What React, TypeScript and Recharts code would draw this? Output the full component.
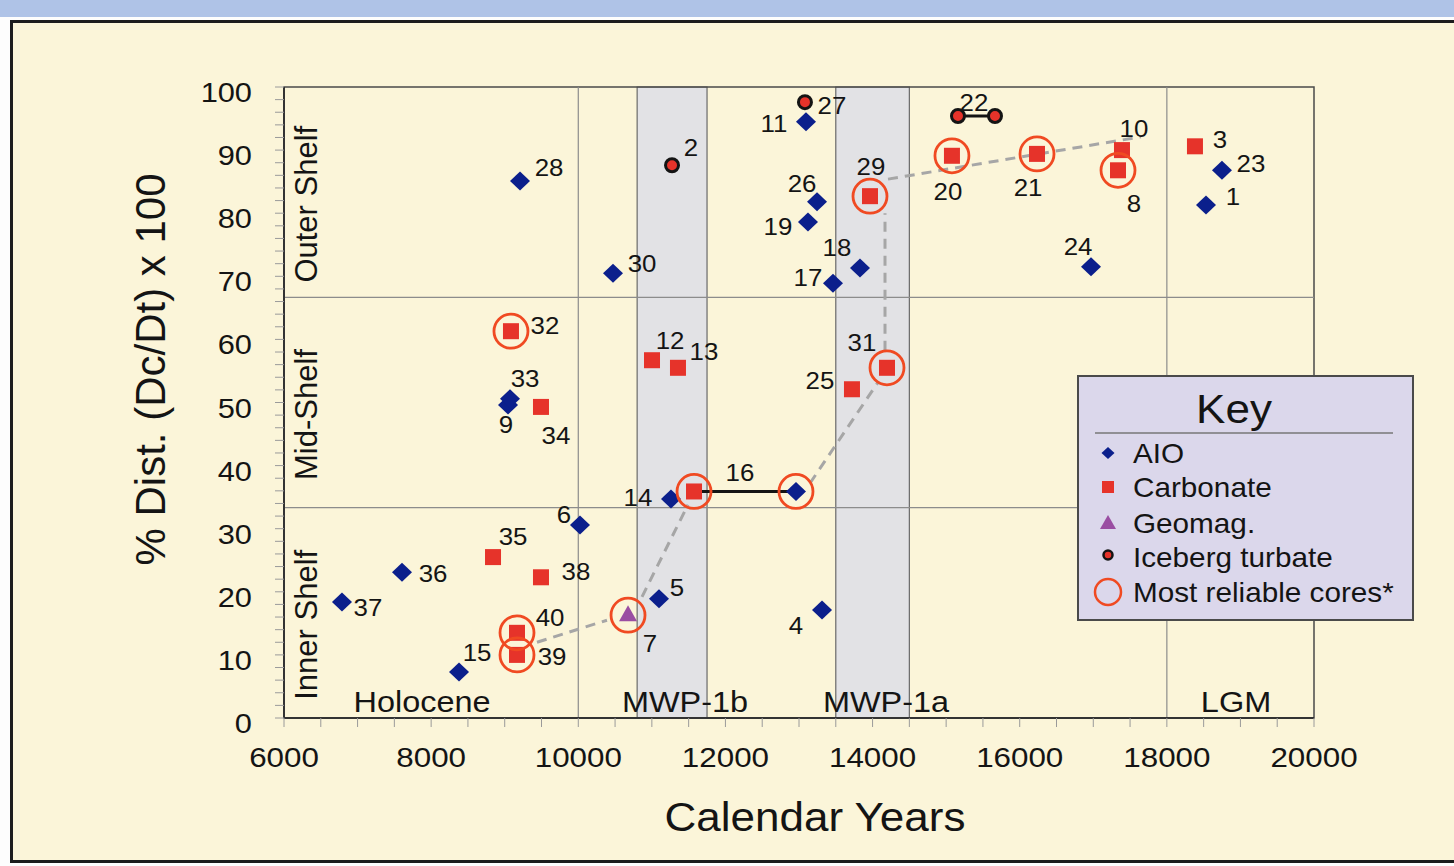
import React from 'react';
import { ScatterChart, Scatter, XAxis, YAxis, ReferenceArea, ReferenceLine, Legend, Label } from 'recharts';

type Pt = { id: string; year: number; pct: number };

// core sites: calendar age vs % distance across the shelf
const aio: Pt[] = [
  { id: '1', year: 18532, pct: 81.3 },
  { id: '4', year: 13313, pct: 17.1 },
  { id: '5', year: 11097, pct: 18.9 },
  { id: '6', year: 10023, pct: 30.6 },
  { id: '9', year: 9045, pct: 49.6 },
  { id: '11', year: 13095, pct: 94.5 },
  { id: '14', year: 11260, pct: 34.7 },
  { id: '15', year: 8379, pct: 7.3 },
  { id: '16', year: 12959, pct: 35.9 },
  { id: '17', year: 13462, pct: 68.9 },
  { id: '18', year: 13829, pct: 71.3 },
  { id: '19', year: 13122, pct: 78.6 },
  { id: '23', year: 18749, pct: 86.8 },
  { id: '24', year: 16969, pct: 71.5 },
  { id: '26', year: 13245, pct: 81.8 },
  { id: '28', year: 9208, pct: 85.1 },
  { id: '30', year: 10472, pct: 70.5 },
  { id: '33', year: 9072, pct: 50.6 },
  { id: '36', year: 7604, pct: 23.1 },
  { id: '37', year: 6788, pct: 18.4 },
];

const carbonate: Pt[] = [
  { id: '3', year: 18382, pct: 90.6 },
  { id: '8', year: 17336, pct: 86.8 },
  { id: '10', year: 17390, pct: 90.0 },
  { id: '12', year: 11002, pct: 56.7 },
  { id: '13', year: 11355, pct: 55.5 },
  { id: '16*', year: 11573, pct: 35.9 },
  { id: '20', year: 15079, pct: 89.1 },
  { id: '21', year: 16235, pct: 89.4 },
  { id: '25', year: 13720, pct: 52.1 },
  { id: '29', year: 13965, pct: 82.7 },
  { id: '31', year: 14196, pct: 55.5 },
  { id: '32', year: 9085, pct: 61.3 },
  { id: '34', year: 9493, pct: 49.3 },
  { id: '35', year: 8841, pct: 25.5 },
  { id: '38', year: 9493, pct: 22.3 },
  { id: '39', year: 9167, pct: 10.0 },
  { id: '40', year: 9167, pct: 13.5 },
];

const geomag: Pt[] = [{ id: '7', year: 10676, pct: 16.3 }];

const iceberg: Pt[] = [
  { id: '2', year: 11274, pct: 87.6 },
  { id: '27', year: 13081, pct: 97.6 },
  { id: '22', year: 15161, pct: 95.4 },
  { id: '22*', year: 15664, pct: 95.4 },
];

const reliableIds = ['32', '40', '39', '7', '16*', '16', '31', '29', '20', '21', '8'];

// solid bars joining two ages of the same core
const connectors = [['16*', '16'], ['22', '22*']];

// dashed trend through the most reliable cores (visible pieces only)
const trendSegments: { year: number; pct: number }[][] = [
  [{ year: 9439, pct: 12.0 }, { year: 10390, pct: 15.5 }],
  [{ year: 10866, pct: 19.2 }, { year: 11491, pct: 33.8 }],
  [{ year: 13149, pct: 37.2 }, { year: 14074, pct: 53.2 }],
  [{ year: 14169, pct: 58.2 }, { year: 14169, pct: 80.0 }],
  [{ year: 14210, pct: 85.4 }, { year: 17648, pct: 92.1 }],
];

const bands = [
  { x1: 10800, x2: 11750 },
  { x1: 13500, x2: 14500 },
];
const dividers = [10000, 18000];
const shelfBounds = [33.33, 66.67];

const eras = [
  { name: 'Holocene', year: 7876 },
  { name: 'MWP-1b', year: 11450 },
  { name: 'MWP-1a', year: 14183 },
  { name: 'LGM', year: 18940 },
];

const shelves = [
  { name: 'Outer Shelf', pct: 83.33 },
  { name: 'Mid-Shelf', pct: 50 },
  { name: 'Inner Shelf', pct: 16.67 },
];

const xMajor = [6000, 8000, 10000, 12000, 14000, 16000, 18000, 20000];
const yMajor = [0, 10, 20, 30, 40, 50, 60, 70, 80, 90, 100];
const xTicks = Array.from({ length: 29 }, (_, i) => 6000 + i * 500);
const yTicks = Array.from({ length: 51 }, (_, i) => i * 2);

const keyItems = ['AIO', 'Carbonate', 'Geomag.', 'Iceberg turbate', 'Most reliable cores*'];

// label offset from its marker, px
const labelAt: Record<string, [number, number]> = {
  '28': [29, -14], '30': [29, -10], '2': [19, -18], '11': [-32, 2], '27': [27, 3],
  '26': [-15, -18], '19': [-30, 4], '18': [-23, -21], '17': [-25, -6], '29': [1, -30],
  '22': [16, -14], '20': [-4, 36], '21': [-9, 34], '10': [12, -22], '8': [16, 33],
  '3': [25, -7], '23': [29, -7], '1': [27, -8], '24': [-13, -20], '32': [34, -6],
  '12': [18, -20], '13': [26, -16], '33': [15, -20], '9': [-2, 19], '34': [15, 29],
  '31': [-25, -25], '25': [-32, -9], '16': [-56, -19], '14': [-33, -2], '6': [-16, -10],
  '35': [20, -21], '36': [31, 1], '38': [35, -6], '37': [26, 6], '5': [18, -11],
  '7': [22, 28], '40': [33, -15], '39': [35, 2], '15': [18, -19], '4': [-26, 15],
};

const SX = 1.1;
const FONT = '"Liberation Sans", Arial, Helvetica, sans-serif';
const NAVY = '#0b1f8c';
const RED = '#e6332a';
const RING = '#f04a22';
const PURPLE = '#9a4ea2';
const INK = '#141414';

const allPts = [...aio, ...carbonate, ...geomag, ...iceberg];
const reliable = reliableIds.map((id) => allPts.find((p) => p.id === id));
const connectorData = connectors.map((pair) => pair.map((id) => allPts.find((p) => p.id === id)));

function SText({ x, y, size, anchor = 'middle', children }: any) {
  return (
    <text
      transform={`translate(${x} ${y}) scale(${SX} 1)`}
      fontSize={size}
      textAnchor={anchor}
      fill={INK}
      fontFamily={FONT}
    >
      {children}
    </text>
  );
}

function numLabel(cx: number, cy: number, id: string) {
  const o = labelAt[id];
  if (!o) return null;
  return (
    <SText x={cx + o[0]} y={cy + o[1] + 8.5} size={23.5}>
      {id}
    </SText>
  );
}

const diamond = ({ cx, cy, payload }: any) => (
  <g>
    <path d={`M${cx},${cy - 9.5}L${cx + 10},${cy}L${cx},${cy + 9.5}L${cx - 10},${cy}Z`} fill={NAVY} />
    {numLabel(cx, cy, payload.id)}
  </g>
);

const square = ({ cx, cy, payload }: any) => (
  <g>
    <rect x={cx - 8} y={cy - 8} width={16} height={16} fill={RED} />
    {numLabel(cx, cy, payload.id)}
  </g>
);

const triangle = ({ cx, cy, payload }: any) => (
  <g>
    <path d={`M${cx},${cy - 10}L${cx + 9},${cy + 6}L${cx - 9},${cy + 6}Z`} fill={PURPLE} />
    {numLabel(cx, cy, payload.id)}
  </g>
);

const ice = ({ cx, cy, payload }: any) => (
  <g>
    <circle cx={cx} cy={cy} r={6.5} fill={RED} stroke={INK} strokeWidth={3} />
    {numLabel(cx, cy, payload.id)}
  </g>
);

const ring = ({ cx, cy }: any) => <circle cx={cx} cy={cy} r={17} fill="none" stroke={RING} strokeWidth={2.8} />;

const none = () => <g />;

const eraShape = ({ cx, cy, payload }: any) => (
  <SText x={cx} y={cy - 6} size={29.5}>
    {payload.name}
  </SText>
);

const shelfShape = ({ cx, cy, payload }: any) => (
  <text
    transform={`translate(${cx + 33} ${cy + 12}) rotate(-90)`}
    fontSize={31}
    textAnchor="middle"
    fill={INK}
    fontFamily={FONT}
  >
    {payload.name}
  </text>
);

const xTick = ({ x, y, payload }: any) =>
  xMajor.includes(payload.value) ? (
    <SText x={x} y={y + 38} size={28.5}>
      {payload.value}
    </SText>
  ) : (
    <g />
  );

const yTick = ({ x, y, payload }: any) =>
  yMajor.includes(payload.value) ? (
    <SText x={x - 21} y={y + 15} size={28} anchor="end">
      {payload.value}
    </SText>
  ) : (
    <g />
  );

const xTitle = ({ viewBox }: any) => (
  <SText x={viewBox.x + viewBox.width / 2 + 16} y={viewBox.y + 113} size={40}>
    Calendar Years
  </SText>
);

const yTitle = ({ viewBox }: any) => (
  <text
    transform={`translate(${viewBox.x - 29} ${viewBox.y + viewBox.height / 2 - 33}) rotate(-90)`}
    fontSize={42}
    textAnchor="middle"
    fill={INK}
    fontFamily={FONT}
  >
    % Dist. (Dc/Dt) x 100
  </text>
);

function keyMarker(i: number, cx: number, cy: number) {
  if (i === 0) return <path d={`M${cx},${cy - 6}L${cx + 6.5},${cy}L${cx},${cy + 6}L${cx - 6.5},${cy}Z`} fill={NAVY} />;
  if (i === 1) return <rect x={cx - 6} y={cy - 6} width={12} height={12} fill={RED} />;
  if (i === 2) return <path d={`M${cx},${cy - 8}L${cx + 8},${cy + 6}L${cx - 8},${cy + 6}Z`} fill={PURPLE} />;
  if (i === 3) return <circle cx={cx} cy={cy - 2} r={4.5} fill={RED} stroke={INK} strokeWidth={2.5} />;
  return <circle cx={cx} cy={cy} r={13} fill="none" stroke={RING} strokeWidth={2.5} />;
}

const renderKey = () => (
  <div
    style={{
      width: 337,
      height: 246,
      boxSizing: 'border-box',
      border: '2px solid #4a4a4a',
      background: '#dbd7eb',
    }}
  >
    <svg width={333} height={242} style={{ display: 'block' }}>
      <SText x={155} y={46} size={40}>
        Key
      </SText>
      <line x1={16} x2={314} y1={56} y2={56} stroke="#777" strokeWidth={1.5} />
      {keyItems.map((name, i) => {
        const cy = [76, 110, 146, 180, 215][i];
        return (
          <g key={name}>
            {keyMarker(i, 29, cy)}
            <SText x={54} y={cy + 9.5} size={27} anchor="start">
              {name}
            </SText>
          </g>
        );
      })}
    </svg>
  </div>
);

export default function App() {
  return (
    <div
      style={{
        position: 'relative',
        width: 1454,
        height: 866,
        overflow: 'hidden',
        background: '#fdfdfd',
        fontFamily: FONT,
      }}
    >
      <style>{'body{margin:0}'}</style>
      <div style={{ position: 'absolute', left: 0, top: 0, width: 1454, height: 17, background: '#afc3e7' }} />
      <div
        style={{
          position: 'absolute',
          left: 10,
          top: 20,
          width: 1470,
          height: 843,
          boxSizing: 'border-box',
          border: '3px solid #1c1c1c',
          background: '#fbf5d9',
        }}
      />
      <div style={{ position: 'absolute', left: 0, top: 0 }}>
        <ScatterChart width={1454} height={866} margin={{ top: 87, right: 140, bottom: 88, left: 194 }}>
          <XAxis
            type="number"
            dataKey="year"
            domain={[6000, 20000]}
            ticks={xTicks}
            interval={0}
            tickSize={9}
            tick={xTick}
            axisLine={{ stroke: '#333', strokeWidth: 2 }}
            tickLine={{ stroke: '#9a9a9a' }}
            height={60}
            allowDataOverflow
          >
            <Label content={xTitle} />
          </XAxis>
          <YAxis
            type="number"
            dataKey="pct"
            domain={[0, 100]}
            ticks={yTicks}
            interval={0}
            tickSize={9}
            tick={yTick}
            axisLine={{ stroke: '#333', strokeWidth: 2 }}
            tickLine={{ stroke: '#9a9a9a' }}
            width={90}
            allowDataOverflow
          >
            <Label content={yTitle} />
          </YAxis>

          {bands.map((b) => (
            <ReferenceArea
              key={b.x1}
              x1={b.x1}
              x2={b.x2}
              y1={0}
              y2={100}
              fill="#e2e2e5"
              fillOpacity={1}
              stroke="#6a6a6a"
              strokeWidth={1.2}
            />
          ))}
          {dividers.map((x) => (
            <ReferenceLine key={x} x={x} stroke="#8c8c8c" strokeWidth={1.2} />
          ))}
          {shelfBounds.map((y) => (
            <ReferenceLine key={y} y={y} stroke="#8c8c8c" strokeWidth={1.2} />
          ))}
          <ReferenceArea x1={6000} x2={20000} y1={0} y2={100} fill="none" stroke="#4a4a4a" strokeWidth={1.5} />

          <Scatter data={shelves.map((s) => ({ ...s, year: 6000 }))} shape={shelfShape} isAnimationActive={false} legendType="none" />
          <Scatter data={eras.map((e) => ({ ...e, pct: 0 }))} shape={eraShape} isAnimationActive={false} legendType="none" />

          {trendSegments.map((seg, i) => (
            <Scatter
              key={'t' + i}
              data={seg}
              line={{ stroke: '#a6a6a6', strokeWidth: 3, strokeDasharray: '10 7' }}
              shape={none}
              isAnimationActive={false}
              legendType="none"
            />
          ))}
          {connectorData.map((seg, i) => (
            <Scatter
              key={'c' + i}
              data={seg}
              line={{ stroke: INK, strokeWidth: 3 }}
              shape={none}
              isAnimationActive={false}
              legendType="none"
            />
          ))}

          <Scatter name="AIO" data={aio} shape={diamond} isAnimationActive={false} />
          <Scatter name="Carbonate" data={carbonate} shape={square} isAnimationActive={false} />
          <Scatter name="Geomag." data={geomag} shape={triangle} isAnimationActive={false} />
          <Scatter name="Iceberg turbate" data={iceberg} shape={ice} isAnimationActive={false} />
          <Scatter name="Most reliable cores*" data={reliable} shape={ring} isAnimationActive={false} />

          <Legend
            layout="vertical"
            align="center"
            verticalAlign="middle"
            content={renderKey}
            wrapperStyle={{ left: 1077, top: 375, width: 337, height: 246, right: 'auto', bottom: 'auto' }}
          />
        </ScatterChart>
      </div>
    </div>
  );
}
